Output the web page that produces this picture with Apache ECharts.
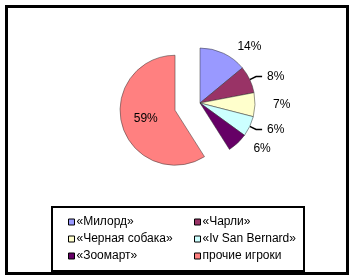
<!DOCTYPE html>
<html><head><meta charset="utf-8">
<script src="https://cdn.jsdelivr.net/npm/echarts@6/dist/echarts.min.js"></script>
<style>html,body{margin:0;padding:0;background:#fff}#c{width:352px;height:278px}</style>
</head><body><div id="c"></div>
<script>
const categories = ['«Милорд»', '«Чарли»', '«Черная собака»', '«Iv San Bernard»', '«Зоомарт»', 'прочие игроки'];
const values = [14, 8, 7, 6, 6, 59];
const colors = ['#9999FF', '#993366', '#FFFFCC', '#CCFFFF', '#660066', '#FF8080'];
const lineShown = [false, true, false, true, false, false];

const chart = echarts.init(document.getElementById('c'), null, {renderer: 'canvas'});
const font = 'Liberation Sans, Arial, sans-serif';
const data = categories.map((n, i) => ({
  name: n, value: values[i],
  itemStyle: {color: colors[i], borderColor: '#333', borderWidth: 0.5},
  selected: i === 5,
  label: i === 5 ? {position: 'inside'} : {},
  labelLine: {show: lineShown[i]}
}));
const legendItem = (idx) => idx.map(i => ({name: categories[i]}));
chart.setOption({
  animation: false,
  graphic: [
    {type: 'rect', shape: {x: 6.5, y: 6.5, width: 341, height: 267}, style: {fill: 'none', stroke: '#000', lineWidth: 3}},
    {type: 'rect', shape: {x: 52, y: 207, width: 252, height: 64}, style: {fill: 'none', stroke: '#000', lineWidth: 2}}
  ],
  legend: [
    {orient: 'vertical', left: 63, top: 211, itemWidth: 6, itemHeight: 6, itemGap: 5, icon: 'rect',
     itemStyle: {borderColor: '#000', borderWidth: 1},
     textStyle: {fontFamily: font, fontSize: 12, color: '#000', padding: [0, 0, 0, -3]},
     data: legendItem([0, 2, 4]), selectedMode: false},
    {orient: 'vertical', left: 189, top: 211, itemWidth: 6, itemHeight: 6, itemGap: 5, icon: 'rect',
     itemStyle: {borderColor: '#000', borderWidth: 1},
     textStyle: {fontFamily: font, fontSize: 12, color: '#000', padding: [0, 0, 0, -3]},
     data: legendItem([1, 3, 5]), selectedMode: false}
  ],
  series: [{
    type: 'pie',
    center: [200, 103],
    radius: 55,
    startAngle: 90,
    clockwise: true,
    selectedMode: 'single',
    selectedOffset: 26,
    label: {formatter: '{c}%', fontFamily: font, fontSize: 12, color: '#000'},
    labelLine: {length: 7, length2: 6, lineStyle: {color: '#000', width: 1.5}},
    emphasis: {disabled: true},
    data: data
  }]
});
</script></body></html>
